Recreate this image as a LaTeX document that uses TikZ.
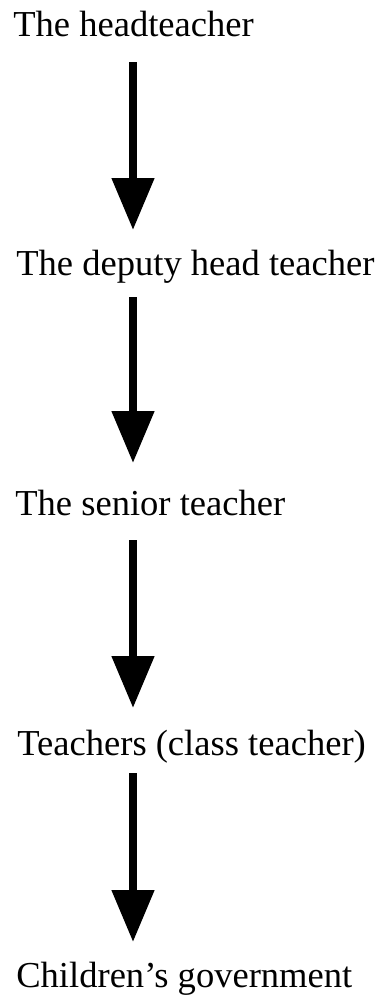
\documentclass[tikz,border=0pt]{standalone}
\usepackage{fontspec}
\setmainfont{Liberation Serif}
\usetikzlibrary{arrows.meta, calc}
\tikzset{
  lvl/.style={anchor=base west, inner sep=0pt, font=\fontsize{20.8}{25}\selectfont},
  dn/.style={-{Triangle[width=8.2mm, length=10.4mm]}, line width=1.6mm}
}
\begin{document}
\begin{tikzpicture}[x=0.02cm, y=-0.02cm]
		\useasboundingbox (0,0) rectangle (381,998);
		\node[lvl] (head) at (13,36) {The headteacher};
		\node[lvl] (dep) at (16,275) {The deputy head teacher};
		\node[lvl] (sen) at (15,515) {The senior teacher};
		\node[lvl] (tch) at (17,755) {Teachers (class teacher)};
		\node[lvl] (kid) at (16,987) {Children's government};
		\draw[dn] ($(head.base west)+(120,26)$) -- ($(dep.base west)+(117,-45)$);
		\draw[dn] ($(dep.base west)+(117,22)$) -- ($(sen.base west)+(118,-52)$);
		\draw[dn] ($(sen.base west)+(118,25)$) -- ($(tch.base west)+(116,-47)$);
		\draw[dn] ($(tch.base west)+(116,18)$) -- ($(kid.base west)+(117,-45)$);
	\end{tikzpicture}
\end{document}
